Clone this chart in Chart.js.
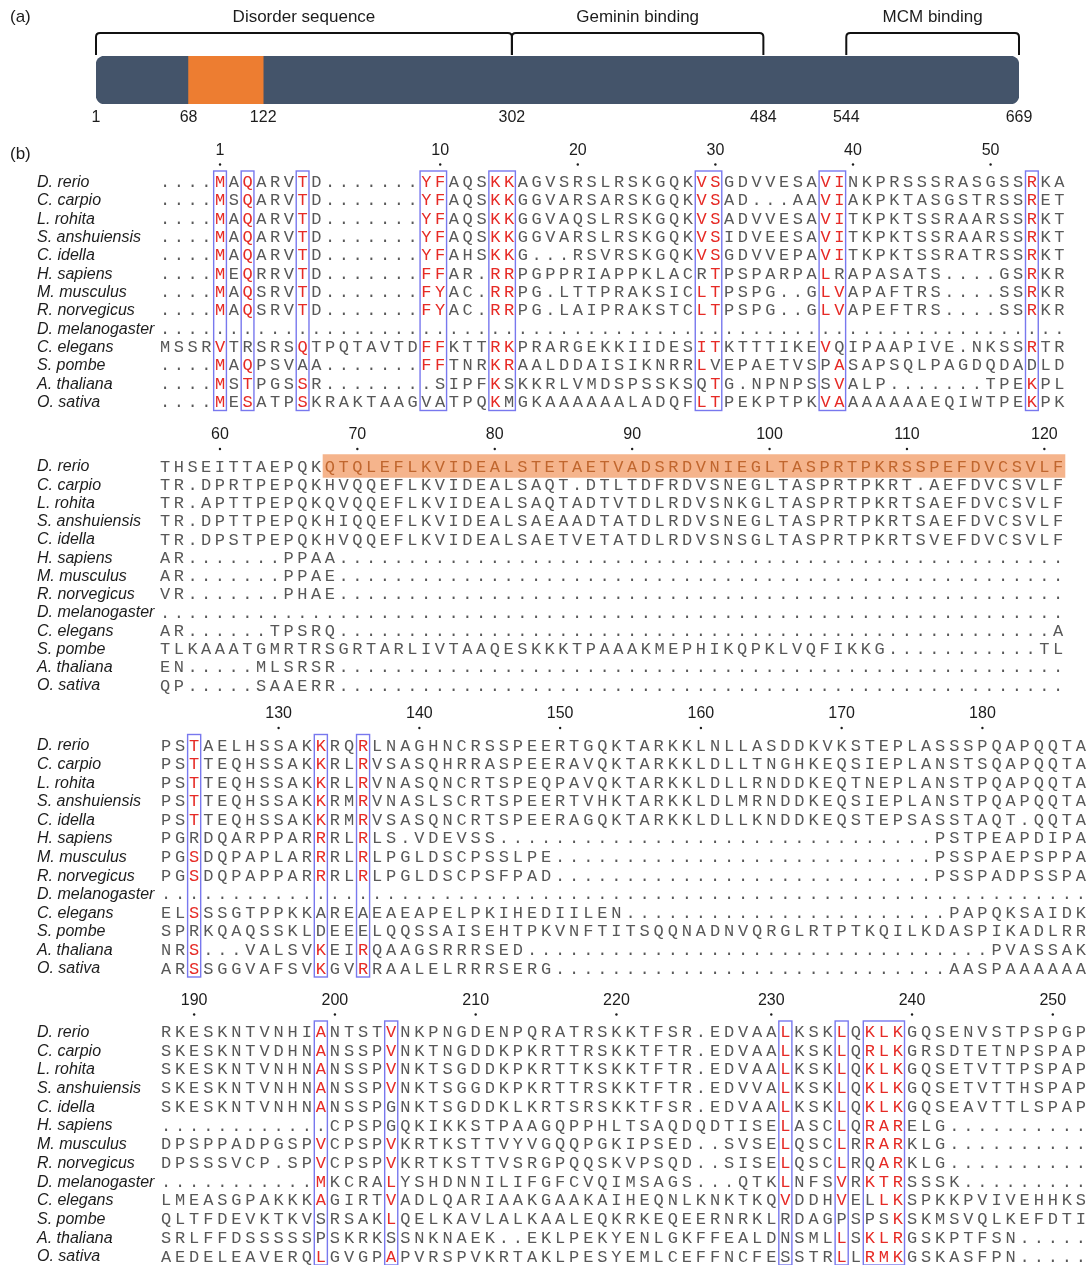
<!DOCTYPE html>
<html>
<head>
<meta charset="utf-8">
<script src="https://cdn.jsdelivr.net/npm/chart.js"></script>
<style>
  html, body { margin: 0; padding: 0; background: #ffffff; }
  body { width: 1088px; height: 1265px; position: relative; overflow: hidden; }
  canvas { position: absolute; left: 0; }
</style>
</head>
<body>
<canvas id="domains" width="1088" height="135" style="top:0px"></canvas>
<canvas id="block1" width="1088" height="285" style="top:135px"></canvas>
<canvas id="block2" width="1088" height="280" style="top:420px"></canvas>
<canvas id="block3" width="1088" height="285" style="top:700px"></canvas>
<canvas id="block4" width="1088" height="290" style="top:985px"></canvas>
<script>
// ---------- (a) domain map ----------
const proteinSpan = [1, 669];
const motifSpan = [68, 122];
const domainTicks = [1, 68, 122, 302, 484, 544, 669];
const domainNames = ['Disorder sequence', 'Geminin binding', 'MCM binding'];
const domainStarts = [1, 302, 544];
const domainEnds = [302, 484, 669];

// ---------- (b) alignment ----------
// Lower-case letters mark residues printed in red; '.' is a gap.
const species = ['D. rerio', 'C. carpio', 'L. rohita', 'S. anshuiensis', 'C. idella',
  'H. sapiens', 'M. musculus', 'R. norvegicus', 'D. melanogaster', 'C. elegans',
  'S. pombe', 'A. thaliana', 'O. sativa'];

const gap = n => '.'.repeat(n);

const seqBlock1 = [
  '....mAqARVtD.......yfAQSkkAGVSRSLRSKGQKvsGDVVESAviNKPRSSSRASGSSrKA',
  '....mSqARVtD.......yfAQSkkGGVARSARSKGQKvsAD...AAviAKPKTASGSTRSSrET',
  '....mAqARVtD.......yfAQSkkGGVAQSLRSKGQKvsADVVESAviTKPKTSSRAARSSrKT',
  '....mAqARVtD.......yfAQSkkGGVARSLRSKGQKvsIDVEESAviTKPKTSSRAARSSrKT',
  '....mAqARVtD.......yfAHSkkG...RSVRSKGQKvsGDVVEPAviTKPKTSSRATRSSrKT',
  '....mEqRRVtD.......ffAR.rrPGPPRIAPPKLACRtPSPARPAlRAPASATS....GSrKR',
  '....mAqSRVtD.......fyAC.rrPG.LTTPRAKSICltPSPG..GlvAPAFTRS....SSrKR',
  '....mAqSRVtD.......fyAC.rrPG.LAIPRAKSTCltPSPG..GlvAPEFTRS....SSrKR',
  gap(66),
  'MSSRvTRSRSqTPQTAVTDffKTTrkPRARGEKKIIDESitKTTTIKEvQIPAAPIVE.NKSSrTR',
  '....mAqPSVAA.......ffTNRkrAALDDAISIKNRRlVEPAETVSPaSAPSQLPAGDQDADLD',
  '....mStPGSsR........SIPFkSKKRLVMDSPSSKSQtG.NPNPSSvALP.......TPEkPL',
  '....mEsATPsKRAKTAAGVATPQkMGKAAAAAALADQFltPEKPTPKvaAAAAAAEQIWTPEkPK'
];
const seqBlock2 = [
  'THSEITTAEPQKQTQLEFLKVIDEALSTETAETVADSRDVNIEGLTASPRTPKRSSPEFDVCSVLF',
  'TR.DPRTPEPQKHVQQEFLKVIDEALSAQT.DTLTDFRDVSNEGLTASPRTPKRT.AEFDVCSVLF',
  'TR.APTTPEPQKQVQQEFLKVIDEALSAQTADTVTDLRDVSNKGLTASPRTPKRTSAEFDVCSVLF',
  'TR.DPTTPEPQKHIQQEFLKVIDEALSAEAADTATDLRDVSNEGLTASPRTPKRTSAEFDVCSVLF',
  'TR.DPSTPEPQKHVQQEFLKVIDEALSAETVETATDLRDVSNSGLTASPRTPKRTSVEFDVCSVLF',
  'AR.......PPAA' + gap(53),
  'AR.......PPAE' + gap(53),
  'VR.......PHAE' + gap(53),
  gap(66),
  'AR......TPSRQ' + gap(52) + 'A',
  'TLKAAATGMRTRSGRTARLIVTAAQESKKKTPAAAKMEPHIKQPKLVQFIKKG...........TL',
  'EN.....MLSRSR' + gap(53),
  'QP.....SAAERR' + gap(53)
];
const seqBlock3 = [
  'PStAELHSSAKkRQrLNAGHNCRSSPEERTGQKTARKKLNLLASDDKVKSTEPLASSSPQAPQQTA',
  'PStTEQHSSAKkRLrVSASQHRRASPEERAVQKTARKKLDLLTNGHKEQSIEPLANSTSQAPQQTA',
  'PStTEQHSSAKkRLrVNASQNCRTSPEQPAVQKTARKKLDLLRNDDKEQTNEPLANSTPQAPQQTA',
  'PStTEQHSSAKkRMrVNASLSCRTSPEERTVHKTARKKLDLMRNDDKEQSIEPLANSTPQAPQQTA',
  'PStTEQHSSAKkRMrVSASQNCRTSPEERAGQKTARKKLDLLKNDDKEQSTEPSASSTAQT.QQTA',
  'PGRDQARPPARrRLrLS.VDEVSS' + gap(31) + 'PSTPEAPDIPA',
  'PGsDQPAPLARrRLrLPGLDSCPSSLPE' + gap(27) + 'PSSPAEPSPPA',
  'PGsDQPAPPARrRLrLPGLDSCPSFPAD' + gap(27) + 'PSSPADPSSPA',
  gap(66),
  'ELsSSGTPPKKAREAEAEAPELPKIHEDIILEN' + gap(23) + 'PAPQKSAIDK',
  'SPRKQAQSSKLDEEELQQSSAISEHTPKVNFTITSQQNADNVQRGLRTPTKQILKDASPIKADLRR',
  'NRs...VALSVkEIrQAAGSRRRSED' + gap(33) + 'PVASSAK',
  'ARsSGGVAFSVkGVrRAALELRRRSERG' + gap(28) + 'AASPAAAAAA'
];
const seqBlock4 = [
  'RKESKNTVNHIaNTSTvNKPNGDENPQRATRSKKTFSR.EDVAAlKSKlQklkGQSENVSTPSPGP',
  'SKESKNTVDHNaNSSPvNKTNGDDKPKRTTRSKKTFTR.EDVAAlKSKlQrlkGRSDTETNPSPAP',
  'SKESKNTVNHNaNSSPvNKTSGDDKPKRTTKSKKTFTR.EDVAAlKSKlQklkGQSETVTTPSPAP',
  'SKESKNTVNHNaNSSPvNKTSGGDKPKRTTRSKKTFTR.EDVVAlKSKlQklkGQSETVTTHSPAP',
  'SKESKNTVNHNaNSSPGNKTSGDDKLKRTSRSKKTFSR.EDVAAlKSKlQklkGQSEAVTTLSPAP',
  gap(12) + 'CPSPGQKIKKSTPAAGQPPHLTSAQDQDTISElASClQrarELG' + gap(10),
  'DPSPPADPGSPvCPSPvKRTKSTTVYVGQQPGKIPSED..SVSElQSClRrarKLG' + gap(10),
  'DPSSSVCP.SPvCPSPvKRTKSTTVSRGPQQSKVPSQD..SISElQSClRQarKLG' + gap(10),
  gap(11) + 'mKCRAlYSHDNNILIFGFCVQIMSAGS...QTKlNFSvRktrSSSK' + gap(9),
  'LMEASGPAKKKaGIRTvADLQARIAAKGAAKAIHEQNLKNKTKQvDDHvELlkSPKKPVIVEHHKS',
  'QLTFDEVKTKVSRSAKlQELKAVLALKAALEQKRKEQEERNRKLRDAGPSPSkSKMSVQLKEFDTI',
  'SRLFFDSSSSSPSKRKSSNKNAEK..EKLPEKYENLGKFFEALDNSMLlSklrGSKPTFSN' + gap(5),
  'AEDELEAVERQlGVGPaPVRSPVKRTAKLPESYEMLCEFFNCFESSTRlLrmkGSKASFPN' + gap(5)
];

// residue numbers printed above each block (numbering of the first sequence)
const ticksBlock1 = [1, 10, 20, 30, 40, 50];
const ticksBlock2 = [60, 70, 80, 90, 100, 110, 120];
const ticksBlock3 = [130, 140, 150, 160, 170, 180];
const ticksBlock4 = [190, 200, 210, 220, 230, 240, 250];

// framed alignment columns [first, last], 1-based
const boxesBlock1 = [[5, 5], [7, 7], [11, 11], [20, 21], [25, 26], [40, 41], [49, 50], [64, 64]];
const boxesBlock2 = [];
const boxesBlock3 = [[3, 3], [12, 12], [15, 15]];
const boxesBlock4 = [[12, 12], [17, 17], [45, 45], [49, 49], [51, 53]];

// shaded stretch of the first sequence in block 2 (columns)
const shadeCols = [13, 66];

// ---------- styling ----------
const SANS = '"Liberation Sans", Arial, Helvetica, sans-serif';
const MONO = '"Liberation Mono", "Courier New", monospace';
const COL_TEXT = '#1c1c1c';
const COL_RES = '#585858';
const COL_RED = '#e62a25';
const COL_BOX = '#7878ee';
const COL_SHADE = '#f5b48c';
const COL_SHADE_TEXT = '#c0662e';
const COL_BAR = '#44546a';
const COL_MOTIF = '#ed7d31';

const baseOptions = {
  responsive: false,
  animation: false,
  devicePixelRatio: 1,
  events: [],
  plugins: { legend: { display: false }, tooltip: { enabled: false } }
};

// ---------- (a) chart ----------
const domainPlugin = {
  id: 'domainMap',
  afterDatasetsDraw(chart) {
    const { ctx, scales: { x } } = chart;
    ctx.save();
    ctx.fillStyle = COL_TEXT;
    ctx.font = '17px ' + SANS;
    ctx.textBaseline = 'middle';
    ctx.textAlign = 'left';
    ctx.fillText('(a)', 10, 17);

    // brackets with their captions
    ctx.strokeStyle = '#111111';
    ctx.lineWidth = 2;
    const yTop = 33, yEnd = 55, r = 4;
    domainNames.forEach((name, i) => {
      const x0 = x.getPixelForValue(domainStarts[i]);
      const x1 = x.getPixelForValue(domainEnds[i]);
      ctx.beginPath();
      ctx.moveTo(x0, yEnd);
      ctx.lineTo(x0, yTop + r);
      ctx.quadraticCurveTo(x0, yTop, x0 + r, yTop);
      ctx.lineTo(x1 - r, yTop);
      ctx.quadraticCurveTo(x1, yTop, x1, yTop + r);
      ctx.lineTo(x1, yEnd);
      ctx.stroke();
      ctx.textAlign = 'center';
      ctx.font = '17px ' + SANS;
      ctx.fillText(name, (x0 + x1) / 2, 17);
    });

    // position labels under the bar
    ctx.font = '16px ' + SANS;
    ctx.textAlign = 'center';
    domainTicks.forEach(v => {
      ctx.fillText(String(v), x.getPixelForValue(v), 118);
    });
    ctx.restore();
  }
};

new Chart(document.getElementById('domains'), {
  type: 'bar',
  data: {
    labels: ['protein'],
    datasets: [
      { data: [motifSpan], backgroundColor: COL_MOTIF, barThickness: 48, grouped: false, order: 1, borderSkipped: false },
      { data: [proteinSpan], backgroundColor: COL_BAR, barThickness: 48, grouped: false, order: 2,
        borderRadius: 9, borderSkipped: false }
    ]
  },
  options: Object.assign({}, baseOptions, {
    indexAxis: 'y',
    layout: { padding: { left: 96, right: 69, top: 56, bottom: 31 } },
    scales: {
      x: { type: 'linear', min: proteinSpan[0], max: proteinSpan[1], display: false },
      y: { display: false }
    }
  }),
  plugins: [domainPlugin]
});

// ---------- (b) charts ----------
const alignmentPlugin = {
  id: 'alignment',
  afterDatasetsDraw(chart, args, opts) {
    const { ctx, scales: { x, y } } = chart;
    const rows = opts.rows;
    const y0 = y.getPixelForValue(0);
    const yN = y.getPixelForValue(rows.length - 1);
    ctx.save();

    if (opts.panel) {
      ctx.fillStyle = COL_TEXT;
      ctx.font = '17px ' + SANS;
      ctx.textAlign = 'left';
      ctx.textBaseline = 'middle';
      ctx.fillText(opts.panel, 10, y0 - 27);
    }

    // species names
    ctx.fillStyle = COL_TEXT;
    ctx.font = 'italic 16px ' + SANS;
    ctx.textAlign = 'left';
    ctx.textBaseline = 'middle';
    species.forEach((name, r) => ctx.fillText(name, 37, y.getPixelForValue(r) + 1));

    // residue numbering from the first sequence
    const first = rows[0];
    let resNo = opts.startResidue - 1;
    const colOfResidue = {};
    [...first].forEach((ch, c) => {
      if (ch !== '.') { resNo += 1; colOfResidue[resNo] = c + 1; }
    });
    ctx.font = '16px ' + SANS;
    ctx.textAlign = 'center';
    opts.ticks.forEach(n => {
      const col = colOfResidue[n];
      if (col === undefined) return;
      const px = x.getPixelForValue(col);
      ctx.fillStyle = COL_TEXT;
      ctx.fillText(String(n), px, y0 - 31);
      ctx.beginPath();
      ctx.arc(px, y0 - 17, 1.2, 0, Math.PI * 2);
      ctx.fill();
    });

    // residues
    ctx.font = '17px ' + MONO;
    ctx.textAlign = 'center';
    ctx.textBaseline = 'middle';
    rows.forEach((row, r) => {
      const py = y.getPixelForValue(r) + 1;
      [...row].forEach((ch, c) => {
        const col = c + 1;
        const red = ch !== ch.toUpperCase();
        let color = red ? COL_RED : COL_RES;
        if (opts.shade && r === 0 && col >= opts.shade[0] && col <= opts.shade[1]) color = COL_SHADE_TEXT;
        ctx.fillStyle = color;
        ctx.fillText(ch.toUpperCase(), x.getPixelForValue(col), py);
      });
    });

    // framed columns
    ctx.strokeStyle = COL_BOX;
    ctx.lineWidth = 1.4;
    opts.boxes.forEach(([c0, c1]) => {
      const left = x.getPixelForValue(c0 - 0.5);
      const right = x.getPixelForValue(c1 + 0.5);
      const top = y0 - 10.5;
      const bottom = yN + 9;
      ctx.strokeRect(left + 0.5, top, right - left - 1, bottom - top);
    });
    ctx.restore();
  }
};

function residueCount(row) {
  return [...row].filter(ch => ch !== '.').length;
}

function alignmentChart(id, rows, ticks, boxes, startResidue, geo, extra) {
  const canvas = document.getElementById(id);
  const step = (geo.lastRow - geo.firstRow) / (rows.length - 1);
  const areaTop = geo.firstRow - step / 2 - geo.top;
  const areaBottom = geo.lastRow + step / 2 - geo.top;
  const left = geo.col1 - geo.pitch / 2;
  const right = geo.col1 + geo.pitch * (rows[0].length - 0.5);
  const datasets = [];
  if (extra && extra.shade) {
    datasets.push({
      data: rows.map((_, r) => r === 0 ? [extra.shade[0] - 0.5, extra.shade[1] + 0.5] : null),
      backgroundColor: COL_SHADE,
      barThickness: 23,
      clip: false
    });
  }
  return new Chart(canvas, {
    type: 'bar',
    data: { labels: species, datasets },
    options: Object.assign({}, baseOptions, {
      indexAxis: 'y',
      layout: { padding: { left: left, right: canvas.width - right, top: areaTop, bottom: canvas.height - areaBottom } },
      scales: {
        x: { type: 'linear', min: 0.5, max: rows[0].length + 0.5, display: false },
        y: { type: 'category', display: false }
      },
      plugins: Object.assign({}, baseOptions.plugins, {
        alignment: {
          rows, ticks, boxes, startResidue,
          shade: extra && extra.shade ? extra.shade : null,
          panel: extra && extra.panel ? extra.panel : null
        }
      })
    }),
    plugins: [alignmentPlugin]
  });
}

const start1 = 1;
const start2 = start1 + residueCount(seqBlock1[0]);
const start3 = start2 + residueCount(seqBlock2[0]);
const start4 = start3 + residueCount(seqBlock3[0]);

alignmentChart('block1', seqBlock1, ticksBlock1, boxesBlock1, start1,
  { top: 135, firstRow: 181.5, lastRow: 401.5, col1: 165, pitch: 13.76 }, { panel: '(b)' });
alignmentChart('block2', seqBlock2, ticksBlock2, boxesBlock2, start2,
  { top: 420, firstRow: 466, lastRow: 685, col1: 165, pitch: 13.74 }, { shade: shadeCols });
alignmentChart('block3', seqBlock3, ticksBlock3, boxesBlock3, start3,
  { top: 700, firstRow: 745, lastRow: 968, col1: 166, pitch: 14.08 });
alignmentChart('block4', seqBlock4, ticksBlock4, boxesBlock4, start4,
  { top: 985, firstRow: 1031.5, lastRow: 1256, col1: 166, pitch: 14.08 });
</script>
</body>
</html>
